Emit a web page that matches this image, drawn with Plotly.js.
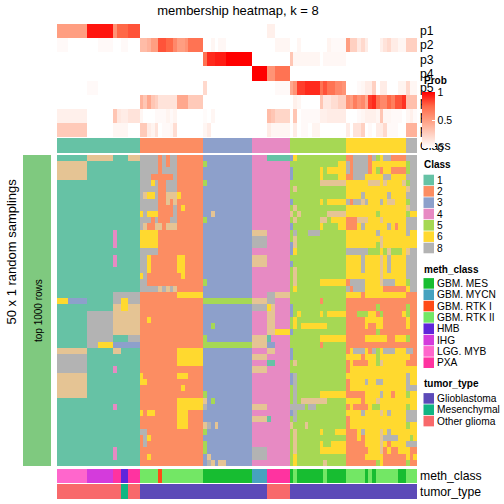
<!DOCTYPE html>
<html><head><meta charset="utf-8">
<script src="https://cdn.plot.ly/plotly-3.0.1.min.js"></script>
<style>html,body{margin:0;padding:0;background:#fff}</style></head>
<body><div id="chart" style="width:504px;height:504px"></div>
<script>
const classLegend = ["1","2","3","4","5","6","8"];
const classColors = {1:"#66C2A5",2:"#FC8D62",3:"#8DA0CB",4:"#E78AC3",5:"#A6D854",6:"#FFD92F",7:"#E5C494",8:"#B3B3B3"};
const methLabels = ["GBM. MES","GBM. MYCN","GBM. RTK I","GBM. RTK II","HMB","IHG","LGG. MYB","PXA"];
const methColors = ["#17BD31","#46A2BF","#FF4A17","#73E765","#5F25DA","#D43BDC","#FF66CC","#FF33A0"];
const tumorLabels = ["Glioblastoma","Mesenchymal","Other glioma"];
const tumorColors = ["#5C4AB8","#12B583","#F8696B"];
const probNames = ["p1","p2","p3","p4","p5","p6","p7","p8"];

// run-length pairs: [number of columns, membership probability]
const p1 = [[8,.5],[7,.95],[1,.55],[3,.75],[3,.8],[34,0],[2,.08],[38,0]];
const p2 = [[3,.03],[8,0],[4,.03],[2,0],[2,.03],[3,0],[2,.35],[1,.4],[2,.5],[2,.8],[2,.75],[1,.6],[2,.5],[1,.55],[4,.7],[2,0],[1,.05],[1,0],[2,.04],[13,0],[4,.05],[2,0],[1,.05],[7,0],[1,.06],[4,.03],[1,.5],[2,.25],[1,.12],[1,.2],[1,.1],[3,0],[1,.08],[1,.15],[1,.2],[2,.1],[2,.05],[3,.25]];
const p3 = [[39,0],[1,.7],[2,.9],[3,.93],[7,1],[10,0],[1,.3],[7,.05],[1,0],[6,.04],[19,0]];
const p4 = [[52,0],[4,1],[2,.55],[4,.7],[34,0]];
const p5 = [[8,0],[3,.03],[28,0],[1,.2],[18,0],[4,.03],[1,.45],[1,.55],[2,.85],[4,.9],[1,.7],[1,.8],[2,.7],[2,.6],[1,.55],[3,0],[1,.03],[1,.05],[1,.1],[1,.1],[1,.25],[1,0],[2,.1],[3,0],[2,.06],[1,.2],[2,.05]];
const p6 = [[22,0],[1,.4],[1,.3],[1,.45],[1,.3],[1,.25],[5,.15],[3,.45],[4,.28],[24,0],[1,.08],[1,.05],[5,0],[1,.3],[2,.12],[2,.18],[2,.25],[1,.55],[1,.5],[1,.65],[1,.55],[1,.6],[1,.45],[1,.85],[1,.9],[1,.7],[2,.6],[1,.75],[1,.65],[2,.8],[1,.88],[3,.33]];
const p7 = [[8,.08],[7,0],[1,.3],[1,.13],[2,.1],[3,.15],[1,.05],[3,0],[3,.03],[1,.06],[1,.03],[1,.06],[7,0],[1,.02],[1,0],[1,.05],[14,0],[1,.35],[1,.3],[4,.22],[1,0],[1,.3],[1,0],[5,.03],[2,.08],[5,.1],[3,0],[1,.03],[1,.05],[3,.08],[1,.05],[1,.3],[2,.05],[3,.03],[1,0],[1,.05],[1,.08],[1,.03]];
const p8 = [[8,.28],[7,0],[4,.05],[3,0],[2,.28],[1,.1],[1,.06],[1,.15],[1,0],[2,.03],[1,.05],[1,.18],[7,0],[1,.05],[1,.1],[15,0],[1,.1],[1,.05],[4,.05],[1,0],[1,.1],[1,0],[2,.03],[1,0],[2,.06],[7,0],[1,.1],[1,0],[2,.15],[1,.25],[1,0],[1,.03],[1,0],[2,.1],[1,.2],[3,.03],[2,0],[3,.4]];

// consensus class of each column, by column group
const classBar = [[22,1],[17,2],[13,3],[10,4],[15,5],[16,6],[3,8]];

// one row per random sampling, one digit per column (7 = tan class)
const classRows = [
"1111111177777771111777 88888282882222222 3333333333333 4444111111 365555555555555 2288882856882222 888",
"7777777711111111111111 88888282882222222 5333333333333 4444444444 555555555555566 8288882666666666 588",
"7777777711111111111111 88888288882222222 3333333333333 4444444444 355555556566666 8288882652662222 588",
"7777777711111111111111 88822222282222222 3333333333333 4444444444 355555556555566 2288866666886666 888",
"1111111111111111111111 88868228882222222 5333333333333 4444444444 555555557777777 6666667776766667 588",
"1111111111111111111111 88888228882222222 3333333333333 4444444444 575555555555555 6666666666666666 788",
"1111111111111111111111 87668227776222222 3333333333333 4444444444 555555555555555 6666866666686666 888",
"1111111111111111111111 88888227272222222 3333333333333 4444444444 355555556566666 8288786668677666 588",
"1111111111111111111111 88888222282622222 3333333333333 4444444444 575555555555555 6666666666666666 788",
"1111111111111111111111 68666222282222222 3373333333333 4444444444 757555555577777 6666666656666666 566",
"1111111111111111111111 88828222882222222 5333333333333 4444444444 575555557756666 2227776667666666 888",
"1111111111111111111111 87227727772222222 3333333333333 4444444444 355555556555566 2226866666686266 888",
"1111111111111114111111 66666222222222222 3333333333333 7777444444 585558885555555 6666666686666666 866",
"1111111111111114111111 66666222222222222 3333333333333 8888444444 575555555555555 6666666667666666 666",
"1111111111111114111111 66666222222222222 3333333333333 8888444444 375555555555555 6666666657666666 666",
"1111111111111111111111 88888222222222222 3333333333333 4444444444 365555555555555 8888885556575556 788",
"1111111111111114111111 88622222226622222 3333333333333 7777444444 555555555555555 6666866667686666 888",
"1111111111111114111111 88622222226622222 3333333333333 7777444444 355555555555555 6666866667686666 888",
"1111111111111111111111 88622222226622222 3333333333333 4444444444 575555555555555 6666866667686666 888",
"1111111111111111111111 68222222222622222 3333333333333 4444444444 575555555555555 6666666667666666 888",
"1111111111111111111111 88222222222222222 5333333333333 4444444444 575555556666666 2888866667888666 588",
"1111111111111111111111 88888787872222222 3333333333333 4444444444 565555555555555 8288866666222222 688",
"1111111111111118888888 22222222226666666 3333333333333 4444887777 555555555555555 6666266666666666 222",
"6663333311111118866888 22222222222222222 5555555555555 7777884444 555555552555555 2222222222222222 222",
"1111111111111117766777 22222222222222222 3333333333333 8888674444 355555555555555 2222222252222222 522",
"1111111188888887777777 22222222222222222 3333333333333 4444774444 356555556566666 2225556625222226 522",
"1111111188888887777777 22622222222222222 3333333333333 4444774444 565555555555555 2222266666222222 622",
"1111111188888887777777 22222222222222222 3353333333333 4444774444 565666666655555 2222262266222222 622",
"1111111188888887777777 22222222222222222 3333333333333 4444776666 355555555555555 2222222252222222 222",
"1111111188888881111888 22222222222222222 5333333333333 7777144444 555555556666666 2222266666622666 522",
"1111111188866663333333 22222222222222222 5555555555555 7777334444 555555552555555 2222222222222222 222",
"7777777711111117711111 22222222226666666 3333333333333 4444774444 355555555555555 2688862856888666 882",
"8888888811111111111111 22222222226666666 3333333333333 7777444444 355555555555555 6666266656666666 622",
"8888888811111111111111 22222222226666666 3333333333333 4444114444 575555555555555 2622226657666666 222",
"8888888811111114111111 22222222222222222 3333333333333 7777444444 555555555555555 2666666666666666 666",
"7777777711111111111111 62222222226662222 3333333333333 4444444444 385555555555555 6666666666666666 866",
"7777777711111111111111 66222222222222222 3333333333333 4444444444 385555555555555 2666686688666666 866",
"7777777711111111111111 22222222222622222 3333333333333 4444444444 585555555555555 2666666666666666 888",
"7777777711111111111111 22222222222222222 5333333333333 4444444444 585555556666666 2222266668662666 566",
"1111111111111111111111 22222222226666666 7353333333333 4444444444 585777777755555 6666266676666666 666",
"1111111111111114111111 22222222226666666 8333333333333 7777444444 888858855555555 2622226556666666 566",
"1111111111111111111111 62662222226662222 3333333333333 4444444444 385555555555555 6666866667686666 888",
"1111111111111111111111 22222222226662222 3333333333333 7777144444 585555555555555 2666666666666666 888",
"1111111111111111111111 22222222226662222 7837333333333 4444444444 755575555555555 2666666666666666 566",
"1111111111111111111111 88222222222222222 5333333333333 4444444444 575555556555666 2226866667686666 666",
"1111111111111111111111 28622222222222222 3333333333333 4444444444 575555555555555 2226266667888866 656",
"1111111111111111111111 28222222222222222 5333333333333 4444444444 575555556556666 2222266667626666 888",
"1111111111111114111111 22222222222222222 5333333333333 8888444444 575555556666666 2222226667262266 622",
"1111111111111114111111 22622222222222222 3733333333333 8888444444 565555555555555 2222266666222222 626",
"1111111111111111111111 22222222222222222 3873773333333 4444444444 565555555755555 2222222256222222 522"
].map(r => r.replace(/ /g, ""));

// column index into methLabels / tumorLabels, run-length
const methRuns = [[8,6],[7,5],[2,7],[2,4],[3,7],[5,3],[1,2],[11,3],[13,0],[4,1],[6,7],[1,0],[1,3],[7,0],[1,3],[5,0],[5,3],[1,0],[1,3],[1,0],[6,3],[2,0],[3,3]];
const tumorRuns = [[17,2],[2,1],[3,2],[34,0],[6,2],[34,0]];

const expand = runs => runs.flatMap(([n, v]) => Array(n).fill(v));
const probZ = [p1,p2,p3,p4,p5,p6,p7,p8].map(expand);
const classZ = classRows.map(r => r.split("").map(Number));

const W = 504, H = 504;
const px = (a,b) => [a/W, b/W];
const py = (top,bottom) => [1-bottom/H, 1-top/H];
const steps = cols => {
  const n = cols.length, out = [];
  cols.forEach((c,i) => { out.push([i/n,c]); out.push([(i+1)/n,c]); });
  return out;
};
const classScale = steps([1,2,3,4,5,6,7,8].map(k => classColors[k]));
const columns = probZ[0].map((_,i) => i);
const probScale = [[0,"#ffffff"],[.25,"#ffd0c1"],[.5,"#ff9e81"],[.75,"#ff6847"],[1,"#ff0000"]];

const traces = [
  {type:"heatmap", z:probZ, x:columns, y:probNames, xaxis:"x", yaxis:"y",
   colorscale:probScale, zmin:0, zmax:1, hoverinfo:"skip",
   colorbar:{x:422/W, xanchor:"left", y:1-148/H, yanchor:"bottom", len:56, lenmode:"pixels",
     thickness:13, thicknessmode:"pixels", xpad:0, ypad:0, outlinewidth:0, borderwidth:0,
     tickvals:[0,.5,1], ticktext:["0","0.5","1"], ticks:"inside", ticklen:3, tickcolor:"#fff", tickwidth:1,
     tickfont:{family:"Liberation Sans",size:10.5,color:"#000"}}},
  {type:"heatmap", z:[expand(classBar)], x:columns, y:["Class"], xaxis:"x", yaxis:"y2",
   colorscale:classScale, zmin:.5, zmax:8.5, showscale:false, hoverinfo:"skip"},
  {type:"heatmap", z:classZ, x:columns, y:classZ.map((_,i)=>i), xaxis:"x", yaxis:"y3",
   colorscale:classScale, zmin:.5, zmax:8.5, showscale:false, hoverinfo:"skip"},
  {type:"heatmap", z:[expand(methRuns)], x:columns, y:["meth_class"], xaxis:"x", yaxis:"y4",
   colorscale:steps(methColors), zmin:-.5, zmax:7.5, showscale:false, hoverinfo:"skip"},
  {type:"heatmap", z:[expand(tumorRuns)], x:columns, y:["tumor_type"], xaxis:"x", yaxis:"y5",
   colorscale:steps(tumorColors), zmin:-.5, zmax:2.5, showscale:false, hoverinfo:"skip"},
  {type:"heatmap", z:[[0]], xaxis:"x2", yaxis:"y6",
   colorscale:[[0,"#7FC97F"],[1,"#7FC97F"]], showscale:false, hoverinfo:"skip"}
];

const labelAxis = (top,bottom,names) => ({domain:py(top,bottom), anchor:"x", side:"right", type:"category",
  autorange:"reversed", showgrid:false, zeroline:false, showline:false, ticks:"",
  tickmode:"array", tickvals:names, ticktext:names,
  ticklabelstandoff:2, tickfont:{family:"Liberation Sans",size:12.2,color:"#000"}});
const hidden = (top,bottom) => ({domain:py(top,bottom), anchor:"x", visible:false});

const shapes = [], annotations = [];
const text = (x,y,t,size,extra) => annotations.push(Object.assign({xref:"paper",yref:"paper",x:x/W,y:1-y/H,text:t,
  showarrow:false,xanchor:"left",yanchor:"middle",align:"left",borderpad:0,
  font:{family:"Liberation Sans",size:size,color:"#000"}},extra||{}));
const legend = (title,titleY,firstY,labels,colors) => {
  text(422.5,titleY,"<b>"+title+"</b>",10);
  labels.forEach((lab,i) => {
    const y = firstY + i*11.33;
    shapes.push({type:"rect",xref:"paper",yref:"paper",x0:423.5/W,x1:434/W,y0:1-(y+11)/H,y1:1-(y+.4)/H,
      fillcolor:colors[i],line:{width:0},layer:"above"});
    text(436,y+5.8,lab,10.2);
  });
};
text(422.5,81,"<b>Prob</b>",10);
legend("Class",165,174.3,classLegend,classLegend.map(k=>classColors[k]));
legend("meth_class",269,277.7,methLabels,methColors);
legend("tumor_type",383.7,392.7,tumorLabels,tumorColors);
text(38,311,"top 1000 rows",10,{textangle:-90,xanchor:"center"});
text(10.5,252,"50 x 1 random samplings",13,{textangle:-90,xanchor:"center"});

const layout = {
  width:W, height:H, margin:{l:0,r:0,t:0,b:0,autoexpand:false},
  paper_bgcolor:"#fff", plot_bgcolor:"#fff", showlegend:false,
  title:{text:"membership heatmap, k = 8", x:238/W, xanchor:"center", y:1-10/H, yanchor:"middle",
    font:{family:"Liberation Sans",size:13,color:"#000"}},
  xaxis:{domain:px(57,417), range:[-.5,95.5], visible:false, anchor:"y"},
  xaxis2:{domain:px(23,51), visible:false, anchor:"y6"},
  yaxis:labelAxis(24,137,probNames),
  yaxis2:labelAxis(138,153,["Class"]),
  yaxis3:Object.assign(hidden(155,466),{range:[49.5,-.5]}),
  yaxis4:labelAxis(469,483,["meth_class"]),
  yaxis5:labelAxis(484,499,["tumor_type"]),
  yaxis6:{domain:py(155,466), anchor:"x2", visible:false},
  shapes, annotations
};
Plotly.newPlot("chart", traces, layout, {staticPlot:true, displayModeBar:false});
</script></body></html>
